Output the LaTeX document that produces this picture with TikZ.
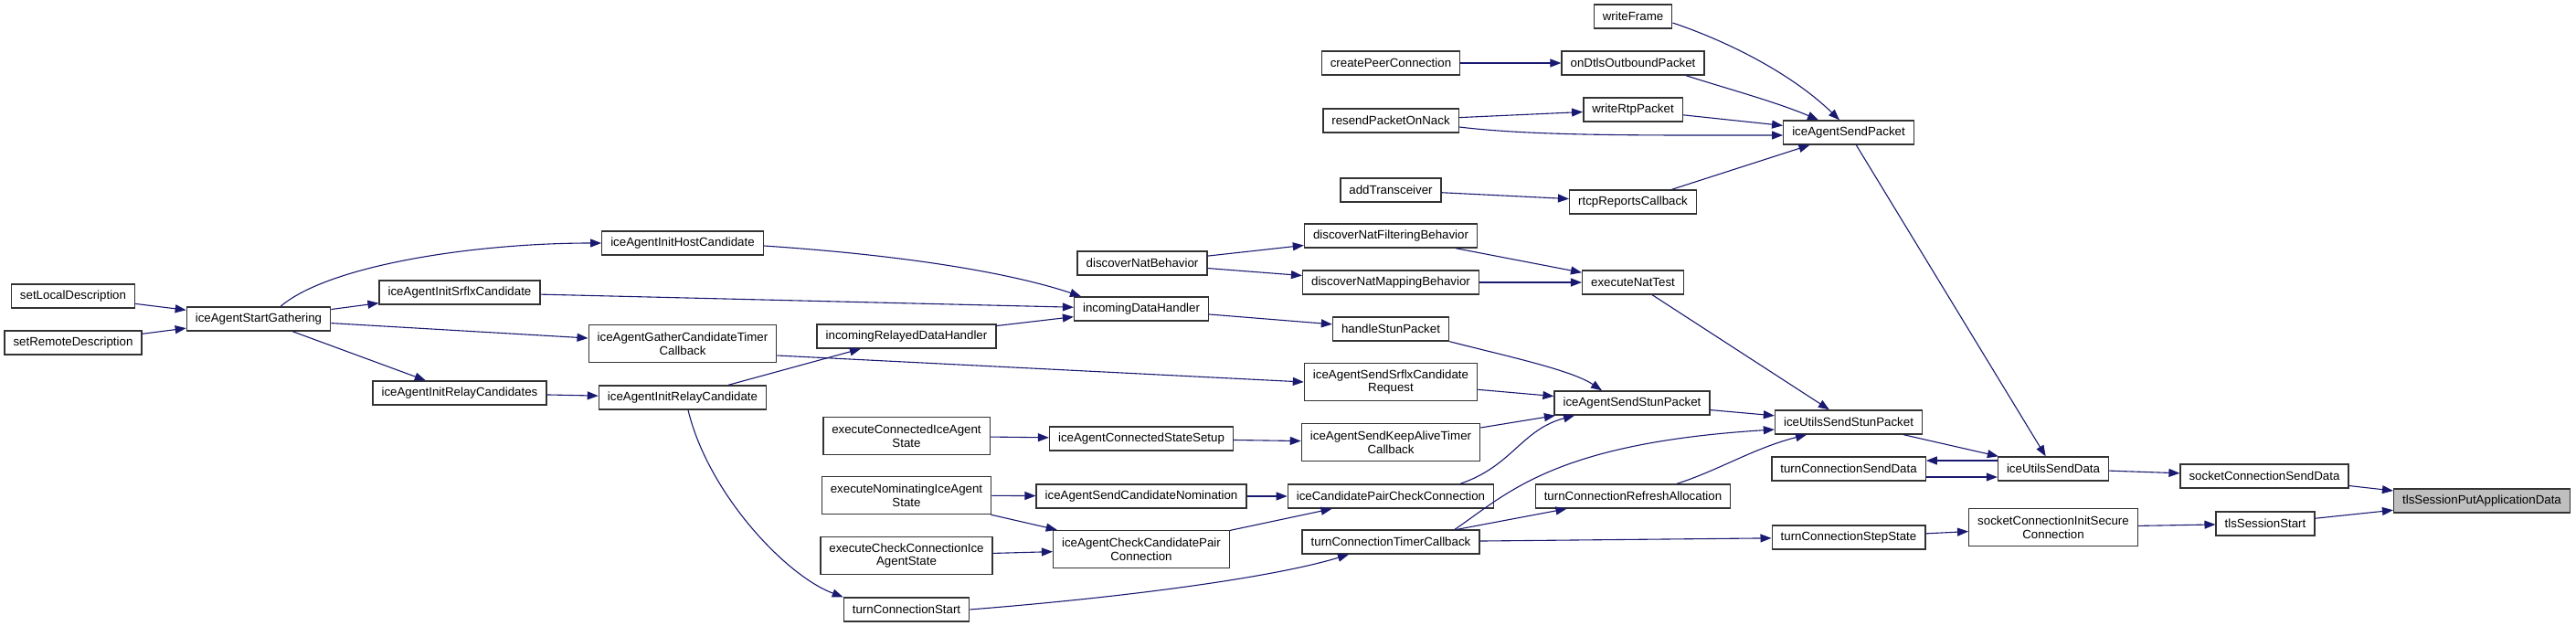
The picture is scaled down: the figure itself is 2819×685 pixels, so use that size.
\documentclass[tikz,border=0pt]{standalone}
\usepackage{fontspec}
\setmainfont{Liberation Sans}
\usepackage{tikz}
\usetikzlibrary{arrows.meta}

\definecolor{edgeblue}{HTML}{191970}
\definecolor{boxline}{HTML}{333333}
\definecolor{rootfill}{HTML}{BFBFBF}

\begin{document}
\begin{tikzpicture}[x=1pt, y=-1pt,
  fn/.style={draw=boxline, line width=1.4pt, fill=white, align=center,
    font=\fontsize{13.3}{14.7}\selectfont, inner xsep=9.5pt, inner ysep=0pt,
    minimum height=26pt},
  fntwo/.style={fn, minimum height=41pt},
  root/.style={fn, fill=rootfill},
  call/.style={edgeblue, line width=1.1pt, -{Triangle[length=12pt, width=9pt]}}]

\useasboundingbox (0,0) rectangle (2819,685);

% Gathering side
\node[fn] (setLocal) at (80,324) {setLocalDescription};
\node[fn] (setRemote) at (80,375) {setRemoteDescription};
\node[fn] (startGather) at (283,349) {iceAgentStartGathering};
\node[fn] (initSrflx) at (503,320) {iceAgentInitSrflxCandidate};
\node[fn] (initRelays) at (503,430) {iceAgentInitRelayCandidates};
\node[fn] (initHost) at (747,266) {iceAgentInitHostCandidate};
\node[fntwo] (gatherTimer) at (747,376) {iceAgentGatherCandidateTimer\\Callback};
\node[fn] (initRelay) at (747,435) {iceAgentInitRelayCandidate};

% State machine and handlers
\node[fn] (relayedHandler) at (992,368) {incomingRelayedDataHandler};
\node[fntwo] (execConnected) at (992,477) {executeConnectedIceAgent\\State};
\node[fntwo] (execNominating) at (992,542) {executeNominatingIceAgent\\State};
\node[fntwo] (execCheck) at (992,608) {executeCheckConnectionIce\\AgentState};
\node[fn] (turnStart) at (992,667) {turnConnectionStart};
\node[fn] (natBehavior) at (1250,288) {discoverNatBehavior};
\node[fn] (dataHandler) at (1249,338) {incomingDataHandler};
\node[fn] (connSetup) at (1249,480) {iceAgentConnectedStateSetup};
\node[fn] (sendNomination) at (1249,543) {iceAgentSendCandidateNomination};
\node[fntwo] (checkPair) at (1249,601) {iceAgentCheckCandidatePair\\Connection};

% Callers of the send functions
\node[fn] (createPC) at (1522,69) {createPeerConnection};
\node[fn] (resendNack) at (1522,132) {resendPacketOnNack};
\node[fn] (addTrans) at (1522,208) {addTransceiver};
\node[fn] (natFilter) at (1522,258) {discoverNatFilteringBehavior};
\node[fn] (natMapping) at (1522,309) {discoverNatMappingBehavior};
\node[fn] (handleStun) at (1522,360) {handleStunPacket};
\node[fntwo] (srflxRequest) at (1522,418) {iceAgentSendSrflxCandidate\\Request};
\node[fntwo] (keepAlive) at (1522,484) {iceAgentSendKeepAliveTimer\\Callback};
\node[fn] (pairCheck) at (1522,543) {iceCandidatePairCheckConnection};
\node[fn] (turnTimer) at (1522,593) {turnConnectionTimerCallback};
\node[fn] (writeFrame) at (1787,18) {writeFrame};
\node[fn] (dtlsOut) at (1787,69) {onDtlsOutboundPacket};
\node[fn] (writeRtp) at (1787,120) {writeRtpPacket};
\node[fn] (rtcpCb) at (1787,221) {rtcpReportsCallback};
\node[fn] (natTest) at (1787,309) {executeNatTest};
\node[fn] (sendStun) at (1786,441) {iceAgentSendStunPacket};
\node[fn] (refreshAlloc) at (1787,543) {turnConnectionRefreshAllocation};

% Send path
\node[fn] (sendPacket) at (2023,145) {iceAgentSendPacket};
\node[fn] (utilsStun) at (2023,462) {iceUtilsSendStunPacket};
\node[fn] (turnSend) at (2023,513) {turnConnectionSendData};
\node[fn] (stepState) at (2023,588) {turnConnectionStepState};
\node[fn] (utilsData) at (2247,513) {iceUtilsSendData};
\node[fntwo] (secureConn) at (2247,577) {socketConnectionInitSecure\\Connection};
\node[fn] (sockSend) at (2478,521) {socketConnectionSendData};
\node[fn] (tlsStart) at (2479,573) {tlsSessionStart};
\node[root] (putAppData) at (2716,548) {tlsSessionPutApplicationData};

% Gathering calls
\draw[call] (setLocal) -- (startGather);
\draw[call] (setRemote) -- (startGather);
\draw[call] ([xshift=24pt]startGather.north) .. controls (360,290) and (520,266) .. (initHost.west);
\draw[call] (startGather) -- (initSrflx);
\draw[call] (startGather) -- (gatherTimer);
\draw[call] (startGather) -- (initRelays);
\draw[call] (initRelays) -- (initRelay);
\draw[call] ([yshift=-3pt]initHost.east) .. controls (1000,280) and (1110,300) .. ([xshift=-66pt]dataHandler.north);
\draw[call] (initSrflx) -- (dataHandler);
\draw[call] (initRelay) -- (relayedHandler);
\draw[call] (relayedHandler) -- (dataHandler);
\draw[call] ([yshift=-13pt]gatherTimer.east) -- (srflxRequest.west);
\draw[call] ([xshift=6pt]initRelay.south) .. controls (775,540) and (860,630) .. (turnStart.north west);

% NAT discovery
\draw[call] (natBehavior) -- (natFilter);
\draw[call] (natBehavior) -- (natMapping);
\draw[call] (natFilter) -- (natTest);
\draw[call] (natMapping) -- (natTest);
\draw[call] (natTest) -- (utilsStun);

% STUN requests
\draw[call] (dataHandler) -- (handleStun);
\draw[call] (handleStun.south east) .. controls (1650,390) and (1720,405) .. ([xshift=-33pt]sendStun.north);
\draw[call] (srflxRequest) -- (sendStun);
\draw[call] (keepAlive) -- (sendStun);
\draw[call] ([xshift=76pt]pairCheck.north) .. controls (1655,510) and (1665,470) .. ([xshift=-63pt]sendStun.south);
\draw[call] (sendStun) -- (utilsStun);

% Connectivity checks
\draw[call] (execConnected) -- (connSetup);
\draw[call] (connSetup) -- (keepAlive);
\draw[call] (execNominating) -- (sendNomination);
\draw[call] (execNominating) -- (checkPair);
\draw[call] (execCheck) -- (checkPair);
\draw[call] (sendNomination) -- (pairCheck);
\draw[call] (checkPair) -- (pairCheck);

% TURN
\draw[call] (turnStart.east) .. controls (1250,652) and (1400,630) .. ([xshift=-46pt]turnTimer.south);
\draw[call] (turnTimer) -- (refreshAlloc);
\draw[call] ([xshift=70pt]turnTimer.north) .. controls (1650,540) and (1700,485) .. ([yshift=-8pt]utilsStun.west);
\draw[call] ([xshift=48pt]refreshAlloc.north) .. controls (1880,515) and (1920,490) .. ([xshift=-46pt]utilsStun.south);
\draw[call] (turnTimer) -- (stepState);

% Media path
\draw[call] (createPC) -- (dtlsOut);
\draw[call] (resendNack) -- (writeRtp);
\draw[call] ([yshift=-7pt]resendNack.east) .. controls (1680,149) and (1800,148) .. ([yshift=-3pt]sendPacket.west);
\draw[call] (addTrans) -- (rtcpCb);
\draw[call] ([yshift=-7pt]writeFrame.east) .. controls (1890,45) and (1960,80) .. ([xshift=-10pt]sendPacket.north);
\draw[call] ([xshift=58pt]dtlsOut.south) .. controls (1890,97) and (1945,112) .. ([xshift=-33pt]sendPacket.north);
\draw[call] (writeRtp) -- (sendPacket);
\draw[call] (rtcpCb) -- (sendPacket);
\draw[call] (sendPacket) -- (utilsData);

% Sending data
\draw[call] (utilsStun) -- (utilsData);
\draw[call] ([yshift=9pt]utilsData.west) -- ([yshift=9pt]turnSend.east);
\draw[call] ([yshift=-9pt]turnSend.east) -- ([yshift=-9pt]utilsData.west);
\draw[call] (utilsData) -- (sockSend);
\draw[call] (sockSend) -- (putAppData);
\draw[call] (stepState) -- (secureConn);
\draw[call] (secureConn) -- (tlsStart);
\draw[call] (tlsStart) -- (putAppData);
\end{tikzpicture}
\end{document}
